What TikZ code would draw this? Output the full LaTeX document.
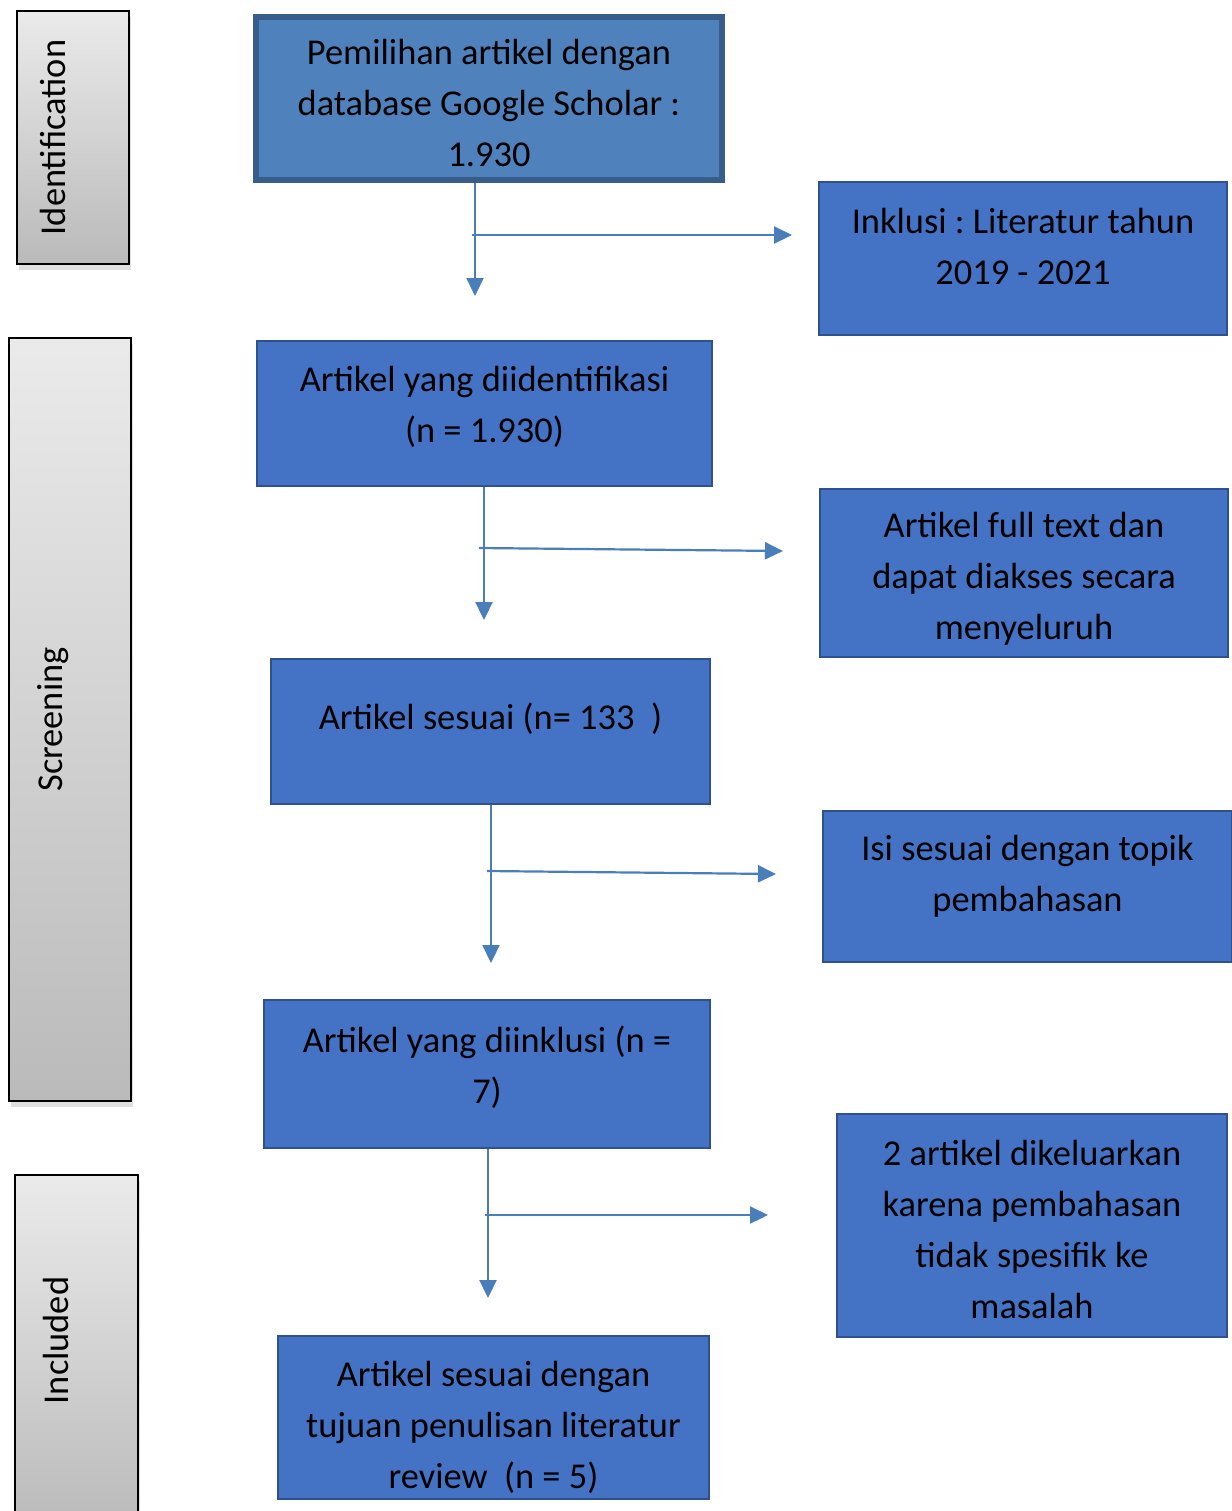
\documentclass[tikz,border=0pt]{standalone}
\usepackage{fontspec}
\setmainfont{Carlito}
\frenchspacing
\definecolor{boxblue}{RGB}{68, 114, 196}
\definecolor{boxedge}{RGB}{47, 82, 143}
\definecolor{topblue}{RGB}{79, 129, 189}
\definecolor{topedge}{RGB}{56, 93, 138}
\definecolor{arrowblue}{RGB}{74, 126, 187}
\usetikzlibrary{arrows.meta, shadows}

\begin{document}
\begin{tikzpicture}[x=0.5pt, y=-0.5pt,
        arr/.style={-{Triangle[length=9pt, width=8.5pt]}, line width=1.1pt, draw=arrowblue},
        box/.style={draw=boxedge, fill=boxblue, line width=1pt, inner sep=0pt,
                    align=center, font=\fontsize{18.2}{25.5}\selectfont},
        phase/.style={draw=black, line width=1pt, inner sep=0pt, rotate=90,
                      top color=black!8, bottom color=black!27,
                      drop shadow={shadow xshift=1pt, shadow yshift=-3pt, opacity=0.25},
                      font=\fontsize{18.2}{20}\selectfont}
      ]
        \useasboundingbox (0, 0) rectangle (1232, 1511);

        \node[phase, minimum width=126.5pt, minimum height=56pt, text depth=20pt]
              (identification) at (73, 137.5) {Identification};
        \node[phase, minimum width=381.5pt, minimum height=61pt, text depth=20pt]
              (screening) at (70, 719.5) {Screening};
        \node[phase, minimum width=177.5pt, minimum height=61.5pt, text depth=21pt]
              (included) at (76.5, 1352.5) {\hspace*{12pt}Included};

        \node[box, draw=topedge, fill=topblue, line width=3pt, text height=68.5pt,
              minimum width=233pt, minimum height=81.5pt] (pilih) at (489, 98.5)
              {Pemilihan artikel dengan\\database Google Scholar :\\1.930};
        \node[box, minimum width=204pt, minimum height=76.5pt, text depth=12pt]
              (inklusi) at (1023, 258.5) {Inklusi : Literatur tahun\\2019 - 2021};
        \node[box, minimum width=227.5pt, minimum height=72.5pt, text depth=9.5pt]
              (diidentifikasi) at (484.5, 413.5) {Artikel yang diidentifikasi\\(n = 1.930)};
        \node[box, minimum width=204pt, minimum height=84pt, text height=69.5pt]
              (fulltext) at (1024, 573) {Artikel full text dan\\dapat diakses secara\\menyeluruh};
        \node[box, minimum width=219.5pt, minimum height=72.5pt, text depth=15pt]
              (sesuai) at (490.5, 731.5) {Artikel sesuai (n= 133~~)};
        \node[box, minimum width=204.5pt, minimum height=75.5pt, text depth=13pt]
              (topik) at (1027.5, 886.5) {Isi sesuai dengan topik\\pembahasan};
        \node[box, minimum width=223pt, minimum height=74pt, text depth=9.5pt]
              (diinklusi) at (487, 1074) {Artikel yang diinklusi (n =\\7)};
        \node[box, minimum width=195pt, minimum height=111.5pt, text height=93.5pt]
              (keluar) at (1032, 1225.5)
              {2 artikel dikeluarkan\\karena pembahasan\\tidak spesifik ke\\masalah};
        \node[box, minimum width=215.5pt, minimum height=81.5pt, text height=74pt]
              (akhir) at (493.5, 1417.5)
              {Artikel sesuai dengan\\tujuan penulisan literatur\\review~~(n = 5)};

        \coordinate (down1) at (475, 296);
        \coordinate (split1) at (472, 235);
        \coordinate (side1) at (792, 235);
        \coordinate (down2) at (484, 620);
        \coordinate (split2) at (479, 548);
        \coordinate (side2) at (783, 551);
        \coordinate (down3) at (491, 963);
        \coordinate (split3) at (487, 871);
        \coordinate (side3) at (776, 874);
        \coordinate (down4) at (488, 1298);
        \coordinate (split4) at (485, 1215);
        \coordinate (side4) at (768, 1215);

        \draw[arr] (down1 |- pilih.south) -- (down1);
        \draw[arr] (split1) -- (side1);
        \draw[arr] (down2 |- diidentifikasi.south) -- (down2);
        \draw[arr] (split2) -- (side2);
        \draw[arr] (down3 |- sesuai.south) -- (down3);
        \draw[arr] (split3) -- (side3);
        \draw[arr] (down4 |- diinklusi.south) -- (down4);
        \draw[arr] (split4) -- (side4);
      \end{tikzpicture}
\end{document}
